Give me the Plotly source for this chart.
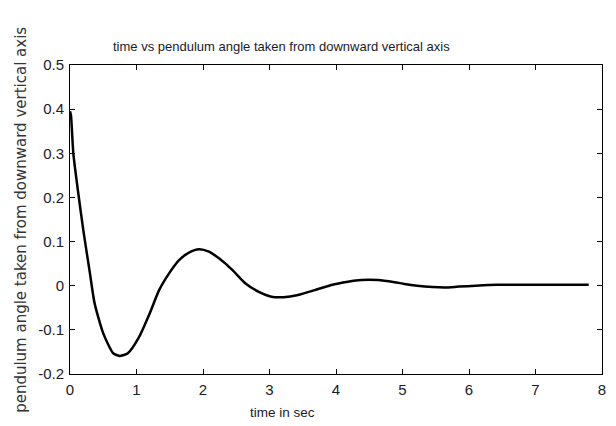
import plotly.graph_objects as go

# time (s) and pendulum angle
t_sec = [0, 0.015, 0.05, 0.124, 0.2, 0.3, 0.37, 0.5, 0.65, 0.75, 0.87, 1.04, 1.19,
         1.34, 1.49, 1.64, 1.79, 1.94, 2.09, 2.24, 2.44, 2.64, 2.84, 3.03, 3.21,
         3.43, 3.68, 3.93, 4.18, 4.38, 4.63, 4.88, 5.03, 5.22, 5.45, 5.64, 5.85,
         6.1, 6.42, 6.8, 7.2, 7.8]
angle = [0.395, 0.385, 0.30, 0.21, 0.126, 0.028, -0.04, -0.108, -0.153, -0.159,
         -0.153, -0.116, -0.066, -0.01, 0.028, 0.058, 0.075, 0.0825, 0.077, 0.062,
         0.036, 0.005, -0.014, -0.025, -0.026, -0.021, -0.010, 0.0016, 0.009,
         0.013, 0.013, 0.008, 0.004, 0.0, -0.003, -0.004, -0.002, 0.0, 0.002,
         0.002, 0.002, 0.002]

x_ticks = [0, 1, 2, 3, 4, 5, 6, 7, 8]
x_ticktext = ["0", "1", "2", "3", "4", "5", "6", "7", "8"]
y_ticks = [-0.2, -0.1, 0, 0.1, 0.2, 0.3, 0.4, 0.5]
y_ticktext = ["-0.2", "-0.1", "0", "0.1", "0.2", "0.3", "0.4", "0.5"]

title_text = "time vs pendulum angle taken from downward vertical axis"
xlabel_text = "time in sec"
ylabel_text = "pendulum angle taken from downward vertical axis"

sans = "Liberation Sans, Arial, sans-serif"

fig = go.Figure()
fig.add_trace(go.Scatter(
    x=t_sec, y=angle, mode="lines",
    line=dict(color="black", width=2.5, shape="spline", smoothing=0.6),
    showlegend=False, hoverinfo="skip",
))

axis_common = dict(
    showline=True, linecolor="black", linewidth=1, mirror="ticks",
    ticks="inside", ticklen=5, tickcolor="black", tickwidth=1,
    showgrid=False, zeroline=False,
    tickfont=dict(family=sans, size=15, color="#1a1a2a"),
)

fig.update_xaxes(range=[0, 8], tickmode="array", tickvals=x_ticks,
                 ticktext=x_ticktext, ticklabelstandoff=2, **axis_common)
fig.update_yaxes(range=[-0.2, 0.5], tickmode="array", tickvals=y_ticks,
                 ticktext=y_ticktext, ticklabelstandoff=2, **axis_common)

fig.add_annotation(text=title_text, xref="paper", yref="paper",
                   x=0.397, y=1.061, xanchor="center", yanchor="middle",
                   showarrow=False,
                   font=dict(family=sans, size=13, color="#1a1a2a"))
fig.add_annotation(text=xlabel_text, xref="paper", yref="paper",
                   x=0.399, y=-0.126, xanchor="center", yanchor="middle",
                   showarrow=False,
                   font=dict(family=sans, size=13.5, color="#1a1a2a"))
fig.add_annotation(text=ylabel_text, xref="paper", yref="paper",
                   x=-0.0933, y=0.5, xanchor="center", yanchor="middle",
                   textangle=-90, showarrow=False,
                   font=dict(family="DejaVu Sans, sans-serif", size=15, color="#333"))

fig.update_layout(
    width=616, height=426,
    margin=dict(l=70, r=10, t=65, b=52),
    paper_bgcolor="white", plot_bgcolor="white",
)

fig.write_html("out.html", config={"displayModeBar": False},
               post_script="document.body.style.margin='0';document.body.style.overflow='hidden';")
